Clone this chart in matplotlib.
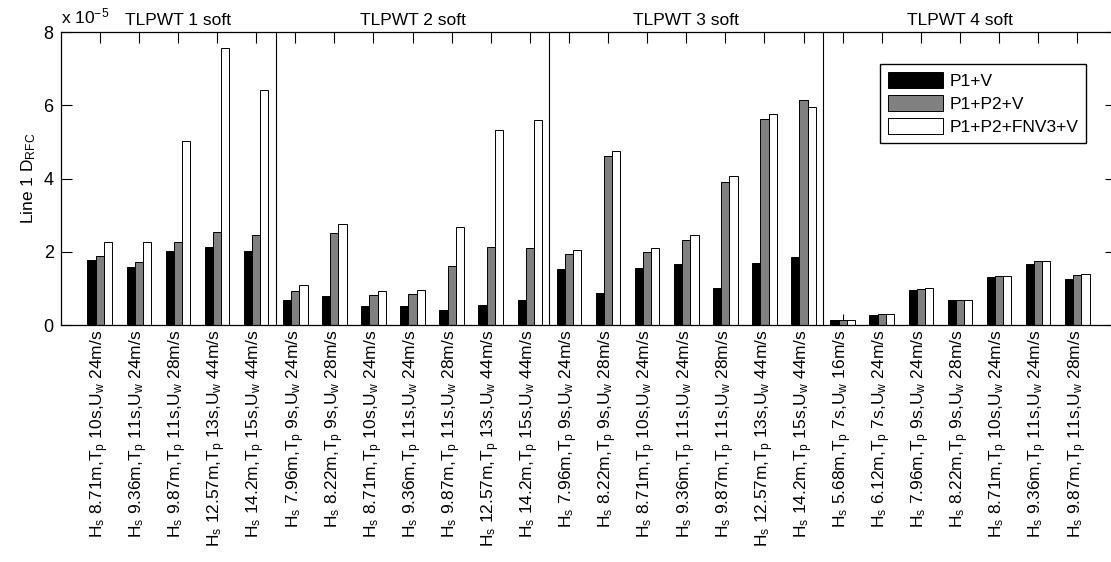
import numpy as np
import matplotlib
matplotlib.use('Agg')
from matplotlib import pyplot as plt

plt.rcParams['font.family'] = ['Liberation Sans', 'DejaVu Sans']
plt.rcParams['mathtext.default'] = 'regular'

# sea states (Hs, Tp, Uw) per group
hs = ['8.71', '9.36', '9.87', '12.57', '14.2',
      '7.96', '8.22', '8.71', '9.36', '9.87', '12.57', '14.2',
      '7.96', '8.22', '8.71', '9.36', '9.87', '12.57', '14.2',
      '5.68', '6.12', '7.96', '8.22', '8.71', '9.36', '9.87']
tp = ['10', '11', '11', '13', '15',
      '9', '9', '10', '11', '11', '13', '15',
      '9', '9', '10', '11', '11', '13', '15',
      '7', '7', '9', '9', '10', '11', '11']
uw = ['24', '24', '28', '44', '44',
      '24', '28', '24', '24', '28', '44', '44',
      '24', '28', '24', '24', '28', '44', '44',
      '16', '24', '24', '28', '24', '24', '28']

# values in units of 1e-5
p1_v = [1.78, 1.59, 2.02, 2.14, 2.02,
        0.67, 0.80, 0.53, 0.52, 0.42, 0.56, 0.67,
        1.53, 0.88, 1.56, 1.66, 1.01, 1.69, 1.85,
        0.13, 0.26, 0.97, 0.68, 1.32, 1.68, 1.26]
p1p2_v = [1.89, 1.71, 2.26, 2.55, 2.45,
          0.93, 2.51, 0.81, 0.84, 1.62, 2.14, 2.11,
          1.95, 4.61, 1.99, 2.32, 3.91, 5.63, 6.15,
          0.15, 0.29, 0.99, 0.67, 1.34, 1.75, 1.37]
p1p2fnv3_v = [2.27, 2.27, 5.03, 7.58, 6.43,
              1.08, 2.77, 0.92, 0.97, 2.67, 5.32, 5.59,
              2.04, 4.75, 2.10, 2.46, 4.06, 5.77, 5.97,
              0.15, 0.29, 1.00, 0.69, 1.35, 1.75, 1.39]

turbines = ['TLPWT 1 soft', 'TLPWT 2 soft', 'TLPWT 3 soft', 'TLPWT 4 soft']
group_sizes = [5, 7, 7, 7]

labels = ['H$_s$ %sm,T$_p$ %ss,U$_w$ %sm/s' % (a, b, c) for a, b, c in zip(hs, tp, uw)]
x = np.arange(1, len(hs) + 1)

fig = plt.figure(figsize=(11.11, 5.62), dpi=100)
ax = fig.add_axes([0.0546, 0.4217, 0.9502, 0.5208])
ax.set_axisbelow(True)

w = 0.21
ax.bar(x - w, p1_v, w, color='black', edgecolor='black', linewidth=0.7, label='P1+V')
ax.bar(x, p1p2_v, w, color='#808080', edgecolor='black', linewidth=0.7, label='P1+P2+V')
ax.bar(x + w, p1p2fnv3_v, w, color='white', edgecolor='black', linewidth=0.7, label='P1+P2+FNV3+V')

# separators and turbine titles
edges = np.cumsum([0] + group_sizes)
for e in edges[1:-1]:
    ax.axvline(e + 0.5, color='black', linewidth=0.8)
for i, name in enumerate(turbines):
    ax.text((edges[i] + 1 + edges[i + 1]) / 2, 8.12, name, ha='center', va='bottom', fontsize=12.5)

ax.set_xlim(0, 27)
ax.set_ylim(0, 8)
ax.set_xticks(x)
ax.set_xticklabels(labels, rotation=90, fontsize=12.5)
ax.set_yticks([0, 2, 4, 6, 8])
ax.tick_params(axis='both', direction='in', length=8, width=0.8, top=True, right=True)
ax.tick_params(axis='y', labelsize=13, pad=5)
ax.tick_params(axis='x', pad=3)
ax.set_ylabel('Line 1 D$_{RFC}$', fontsize=12.5)
ax.text(0.0, 1.02, 'x 10$^{-5}$', transform=ax.transAxes, ha='left', va='bottom', fontsize=12.5)

for s in ax.spines.values():
    s.set_linewidth(0.9)

ax.legend(loc='upper right', bbox_to_anchor=(0.9775, 0.886), bbox_transform=fig.transFigure,
          fontsize=12.5, fancybox=False, edgecolor='black', framealpha=1,
          handlelength=3.2, handleheight=1.05, borderaxespad=0, borderpad=0.45,
          labelspacing=0.35, handletextpad=0.35)

fig.savefig('out.png', dpi=100)
